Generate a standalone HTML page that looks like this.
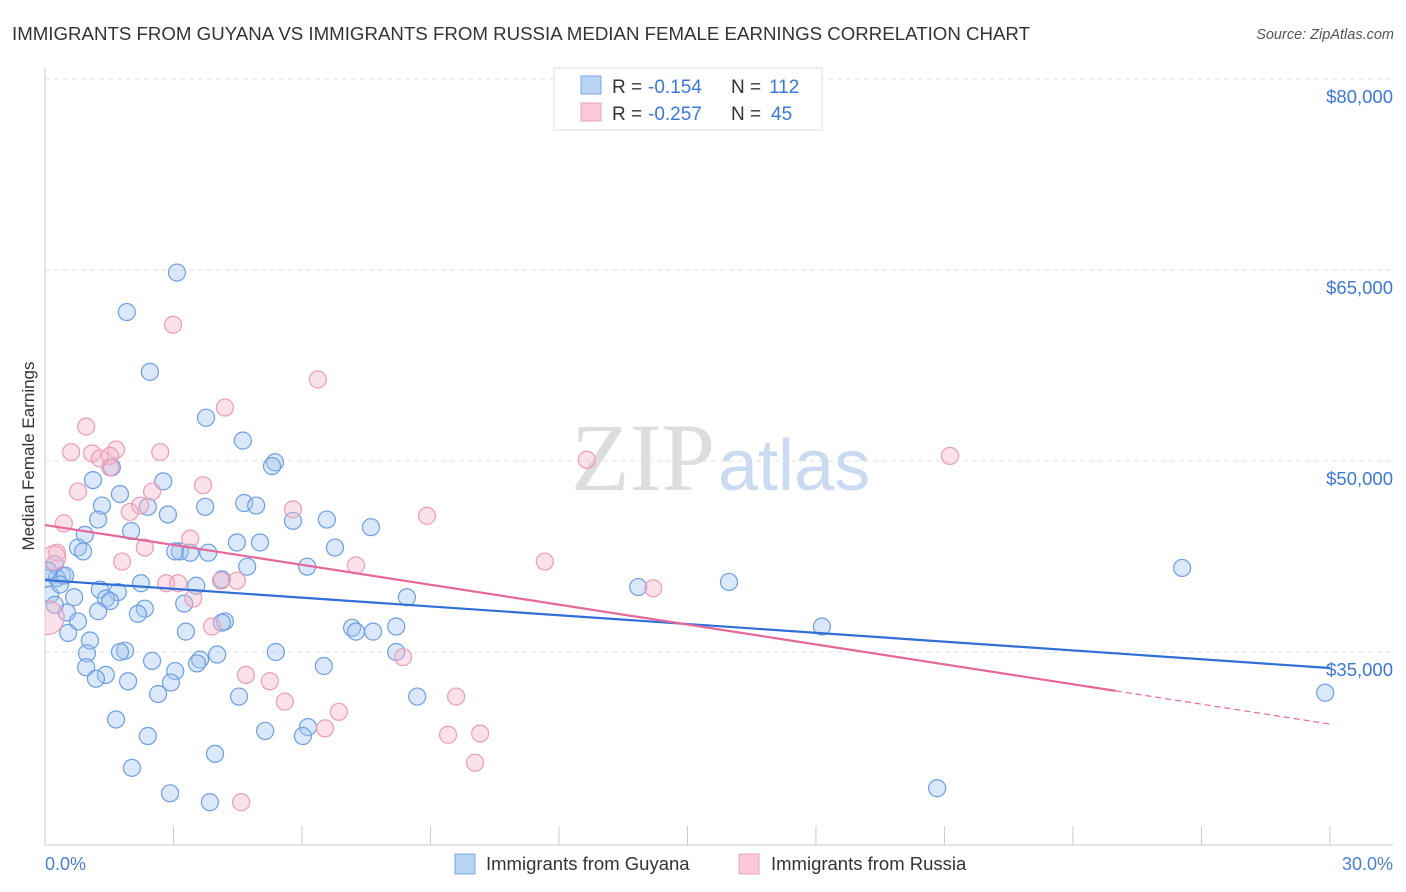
<!DOCTYPE html>
<html><head><meta charset="utf-8">
<style>
body{margin:0;background:#fff;font-family:"Liberation Sans",sans-serif;}
svg{display:block}
</style></head>
<body>
<svg id="chart" width="1406" height="892" xmlns="http://www.w3.org/2000/svg">
<defs><clipPath id="plotclip"><rect x="45" y="60" width="1360" height="785"/></clipPath></defs>
<text x="12" y="40" font-size="18" fill="#333" textLength="1018" lengthAdjust="spacingAndGlyphs">IMMIGRANTS FROM GUYANA VS IMMIGRANTS FROM RUSSIA MEDIAN FEMALE EARNINGS CORRELATION CHART</text>
<text x="1394" y="39" font-size="14.5" fill="#555" font-style="italic" text-anchor="end">Source: ZipAtlas.com</text>
<text x="715" y="490" font-size="96" fill="#ddd" text-anchor="end" font-family="Liberation Serif,serif">ZIP</text>
<text x="718" y="490" font-size="72" fill="#c9daf1">atlas</text>
<g id="grid"></g><g id="axes"></g><g id="pts" clip-path="url(#plotclip)"></g><g id="trend"></g>
<text transform="translate(34,456) rotate(-90)" font-size="17" fill="#333" text-anchor="middle">Median Female Earnings</text>
<text x="45" y="870" font-size="18" fill="#4a7fd4">0.0%</text>
<text x="1393" y="870" font-size="18" fill="#4a7fd4" text-anchor="end">30.0%</text>
<g>
<rect x="554" y="68" width="268" height="62" fill="#fff" stroke="#ddd"/>
<rect x="581" y="76" width="20" height="18" fill="#b9d3f5" stroke="#7da7e0"/>
<rect x="581" y="103" width="20" height="18" fill="#f9c9d8" stroke="#eba3bb"/>
<text x="612" y="93" font-size="19" fill="#333">R =</text>
<text x="648" y="93" font-size="19" fill="#3b78d8">-0.154</text>
<text x="731" y="93" font-size="19" fill="#333">N =</text>
<text x="769" y="93" font-size="19" fill="#3b78d8">112</text>
<text x="612" y="120" font-size="19" fill="#333">R =</text>
<text x="648" y="120" font-size="19" fill="#3b78d8">-0.257</text>
<text x="731" y="120" font-size="19" fill="#333">N =</text>
<text x="771" y="120" font-size="19" fill="#3b78d8">45</text>
</g>
<g>
<rect x="455" y="854" width="20" height="20" fill="#b9d3f5" stroke="#7da7e0"/>
<text x="486" y="870" font-size="18.5" fill="#333">Immigrants from Guyana</text>
<rect x="739" y="854" width="20" height="20" fill="#f9c9d8" stroke="#eba3bb"/>
<text x="771" y="870" font-size="18.5" fill="#333">Immigrants from Russia</text>
</g>
</svg>
<script>
const yTicks=[80000,65000,50000,35000];
const yTickLabels=["$80,000","$65,000","$50,000","$35,000"];
const xTicks=[0,3,6,9,12,15,18,21,24,27,30];
const guyanaX=[3.08,1.91,2.45,3.76,4.62,1.56,5.37,5.30,1.12,2.76,1.75,1.33,4.65,4.93,2.40,3.74,1.24,2.87,5.79,6.58,7.61,0.93,2.01,5.02,4.48,0.77,0.89,3.15,3.04,3.39,3.81,6.77,4.72,6.12,0.23,0.40,0.07,0.28,0.47,4.13,2.24,3.53,13.85,15.97,26.55,1.28,1.70,0.68,1.42,1.52,8.45,3.25,0.51,1.24,2.33,2.17,4.20,4.13,0.77,8.20,18.14,3.29,7.17,7.26,7.66,0.54,1.05,1.87,1.75,0.98,5.39,8.20,4.02,3.62,2.50,3.55,0.96,6.51,3.04,1.42,1.19,1.94,2.94,2.64,4.53,8.69,29.89,1.66,6.14,5.14,6.02,2.40,3.97,2.03,2.92,3.85,20.83,0.07,0.12,0.23,0.35];
const guyanaY=[64.8,61.7,57.0,53.4,51.6,49.5,49.9,49.6,48.5,48.4,47.4,46.5,46.7,46.5,46.4,46.4,45.4,45.8,45.3,45.4,44.8,44.2,44.5,43.6,43.6,43.2,42.9,42.9,42.9,42.8,42.8,43.2,41.7,41.7,41.9,41.0,40.8,40.8,41.0,40.7,40.4,40.2,40.1,40.5,41.6,39.9,39.7,39.3,39.2,39.0,39.3,38.8,38.1,38.2,38.4,38.0,37.4,37.3,37.4,37.0,37.0,36.6,36.9,36.6,36.6,36.5,35.9,35.1,35.0,34.9,35.0,35.0,34.8,34.4,34.3,34.1,33.8,33.9,33.5,33.2,32.9,32.7,32.6,31.7,31.5,31.5,31.8,29.7,29.1,28.8,28.4,28.4,27.0,25.9,23.9,23.2,24.3,41.4,39.5,38.7,40.3];
const russiaX=[2.99,6.37,4.20,0.96,0.61,1.10,1.66,2.69,1.28,1.52,12.65,21.13,0.77,2.50,3.69,2.22,5.79,8.92,1.98,0.44,0.28,3.39,2.33,1.80,7.26,11.67,4.11,2.83,3.11,4.48,14.20,3.46,3.90,8.36,4.69,5.25,5.60,9.60,6.86,6.54,9.41,10.16,10.04,4.58,0.05,0.20,1.52];
const russiaY=[60.7,56.4,54.2,52.7,50.7,50.6,50.9,50.7,50.2,50.4,50.1,50.4,47.6,47.6,48.1,46.5,46.2,45.7,46.0,45.1,42.8,43.9,43.2,42.1,41.8,42.1,40.6,40.4,40.4,40.6,40.0,39.2,37.0,34.6,33.2,32.7,31.1,31.5,30.3,29.0,28.5,28.6,26.3,23.2,37.7,42.4,49.5];
const trendGuyana=[40650,33740];
const trendRussia=[44970,29340];
const russiaSolidEnd=25;
const NS="http://www.w3.org/2000/svg";
const X=v=>45+v*42.83;
const Y=v=>79+(80000-v)*0.012733;
function mk(tag,attrs,parent){const e=document.createElementNS(NS,tag);for(const k in attrs)e.setAttribute(k,attrs[k]);document.getElementById(parent).appendChild(e);return e;}
yTicks.forEach((t,i)=>{
 const l=mk('line',{x1:45,x2:1393,y1:Y(t),y2:Y(t),stroke:'#e2e2e2','stroke-dasharray':'5,4'},'grid');
 
 
 const tx=mk('text',{x:1393,y:Y(t)+24,'font-size':18.5,fill:'#3b78d8','text-anchor':'end'},'grid');
 tx.textContent=yTickLabels[i];
 
 
});
const ax=mk('line',{x1:45,x2:45,y1:68,y2:845,stroke:'#ccc'},'axes');


const bx=mk('line',{x1:45,x2:1393,y1:845,y2:845,stroke:'#ccc'},'axes');


xTicks.forEach(t=>{
 const l=mk('line',{x1:X(t),x2:X(t),y1:826,y2:845,stroke:'#ccc'},'axes');
 
 
});
guyanaX.forEach((x,i)=>{
 const c=mk('circle',{cx:X(x),cy:Y(guyanaY[i]*1000),r:8.5,fill:'rgba(165,198,240,0.4)',stroke:'#6d9fe0','stroke-width':1.2},'pts');
 
 
});
russiaX.forEach((x,i)=>{
 const c=mk('circle',{cx:X(x),cy:Y(russiaY[i]*1000),r:i==44?17:(i==45?12:8.5),fill:'rgba(246,180,202,0.4)',stroke:'#eb9db8','stroke-width':1.2},'pts');
 
 
});
const tg=mk('line',{x1:X(0),y1:Y(trendGuyana[0]),x2:X(30),y2:Y(trendGuyana[1]),stroke:'#2f6fd6','stroke-width':2.2},'trend');


const rAt=x=>trendRussia[0]+(trendRussia[1]-trendRussia[0])*x/30;
const tr=mk('line',{x1:X(0),y1:Y(rAt(0)),x2:X(russiaSolidEnd),y2:Y(rAt(russiaSolidEnd)),stroke:'#e4689a','stroke-width':2.2},'trend');


const td=mk('line',{x1:X(russiaSolidEnd),y1:Y(rAt(russiaSolidEnd)),x2:X(30),y2:Y(rAt(30)),stroke:'#e4689a','stroke-width':1.2,'stroke-dasharray':'6,4'},'trend');


</script>
</body></html>
